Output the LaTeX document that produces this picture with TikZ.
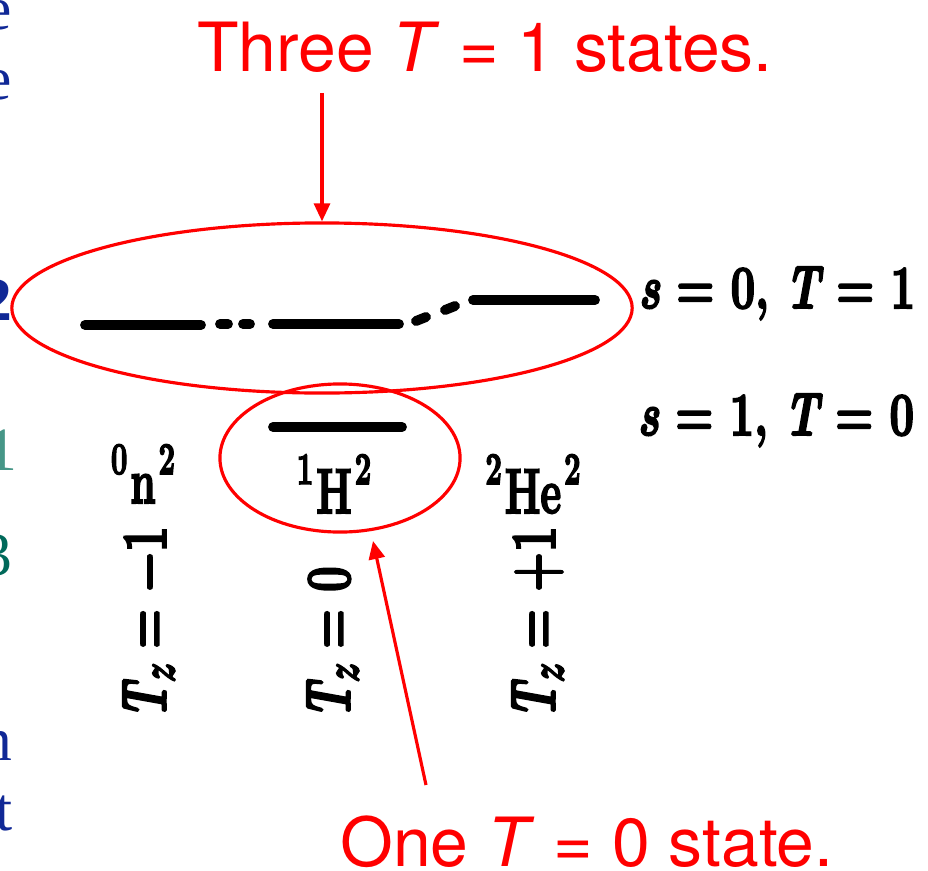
\documentclass[tikz,border=0pt]{standalone}
\usepackage{fontspec}
\usepackage{graphicx}
\usetikzlibrary{arrows.meta,shapes.geometric}
\newfontfamily\heros{TeX Gyre Heros}
\newfontfamily\timesf{Liberation Serif}
\newfontfamily\scanfont[FakeBold=3.5]{Latin Modern Roman}
\definecolor{slidered}{RGB}{255,0,0}
\definecolor{slidenavy}{RGB}{16,40,150}
\definecolor{tealA}{RGB}{70,150,135}
\definecolor{tealB}{RGB}{0,105,90}
\newcommand\scantext[3]{\scalebox{#1}[#2]{\scanfont\bfseries\fontsize{14.4}{17}\selectfont #3}}
\newcommand\supdigit[1]{\raisebox{6.6pt}{\fontsize{10.3}{11}\selectfont #1}}
\newcommand\subz{\raisebox{-2pt}{\fontsize{11}{11}\selectfont\itshape z}}
\tikzset{
  redline/.style={draw=slidered, line width=0.9pt},
  redarrow/.style={redline, -{Triangle[length=0.18cm,width=0.16cm]}},
  redellipse/.style={redline, ellipse, inner sep=0pt},
  levelbar/.style={line width=2.8pt, line cap=round},
  redtext/.style={text=slidered, inner sep=0pt, font=\heros\fontsize{19.3}{22}\selectfont},
  scanlabel/.style={inner sep=0pt},
  edgefrag/.style={inner sep=0pt, anchor=base east, font=\timesf\fontsize{17.5}{20}\selectfont}
}
\begin{document}
\begin{tikzpicture}[x=0.01cm,y=-0.01cm]
\useasboundingbox (0,0) rectangle (928,870);
% clipped text fragments on the left edge
\node[edgefrag, text=slidenavy] (f1) at (13,30) {e};
\node[edgefrag, text=slidenavy] (f2) at (13,100) {e};
\node[edgefrag, text=slidenavy, font=\timesf\bfseries\fontsize{17.5}{20}\selectfont] (f3) at (13,320) {2};
\node[edgefrag, text=tealA] (f4) at (18,470) {1};
\node[edgefrag, text=tealB] (f5) at (13,575) {3};
\node[edgefrag, text=slidenavy] (f6) at (13,760) {n};
\node[edgefrag, text=slidenavy] (f7) at (13,830) {t};
% red captions
\node[redtext, anchor=base] (three) at (485,72) {Three {\itshape T\/} = 1 states.};
\node[redtext, anchor=base] (one) at (587,866) {One {\itshape T\/} = 0 state.};
% energy levels T=1
\draw[levelbar] (85,325) -- (201,325);
\draw[levelbar] (220,324) -- (228,324);
\draw[levelbar] (243,324) -- (250,324);
\draw[levelbar] (273,324) -- (399,324);
\draw[levelbar] (416,321) -- (426,317);
\draw[levelbar] (445,310) -- (455,306);
\draw[levelbar] (473,300) -- (595,300);
% energy level T=0
\draw[levelbar] (273,427) -- (402,427);
% state labels
\node[scanlabel, anchor=base west] (s0) at (638,308) {\scantext{0.86}{1.2}{{\itshape s} = 0, {\itshape T} = 1}};
\node[scanlabel, anchor=base west] (s1) at (637,435) {\scantext{0.86}{1.2}{{\itshape s} = 1, {\itshape T} = 0}};
% nuclide labels
\node[scanlabel, anchor=base] (nn) at (143,503) {\scantext{0.8}{1.25}{\supdigit{0}\kern1pt n\kern1pt\supdigit{2}}};
\node[scanlabel, anchor=base] (hh) at (334,513) {\scantext{0.8}{1.25}{\supdigit{1}\kern1pt H\kern1pt\supdigit{2}}};
\node[scanlabel, anchor=base] (he) at (533,513) {\scantext{0.8}{1.25}{\supdigit{2}\kern1pt He\kern1pt\supdigit{2}}};
% isospin projections
\node[scanlabel, rotate=90, anchor=west] (tzl) at (149,720) {\scantext{0.9}{1.25}{{\itshape T}\subz{} = −1}};
\node[scanlabel, rotate=90, anchor=west] (tzm) at (333,720) {\scantext{0.9}{1.25}{{\itshape T}\subz{} = 0}};
\node[scanlabel, rotate=90, anchor=west] (tzr) at (538,720) {\scantext{0.9}{1.25}{{\itshape T}\subz{} = +1}};
% red ellipses and arrows
\node[redellipse, minimum width=6.2cm, minimum height=1.7cm] (big) at (322,308) {};
\node[redellipse, minimum width=2.4cm, minimum height=1.48cm] (small) at (340,458) {};
\coordinate (a1) at (322,93);
\draw[redarrow] (a1) -- (big.north);
\coordinate (a2tail) at (426,785);
\coordinate (a2head) at (373,541);
\draw[redarrow] (a2tail) -- (a2head);
\end{tikzpicture}
\end{document}
